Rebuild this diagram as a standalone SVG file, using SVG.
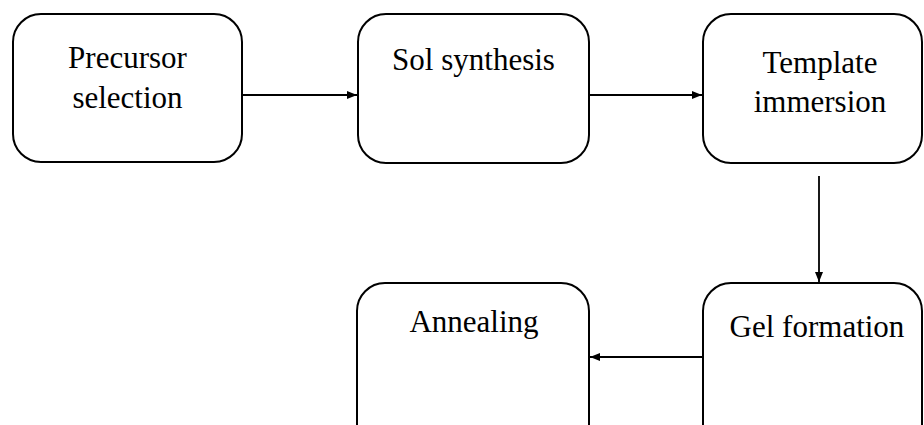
<svg xmlns="http://www.w3.org/2000/svg" width="924" height="425" viewBox="0 0 924 425">
<defs>
<marker id="arr" viewBox="0 0 10 10" refX="10" refY="5" markerWidth="10" markerHeight="10" markerUnits="userSpaceOnUse" orient="auto">
<path d="M0,1 L10,5 L0,9 Z" fill="#000"/>
</marker>
</defs>
<style>
.box{fill:#fff;stroke:#000;stroke-width:2}
.lbl{font-family:"Liberation Serif","Times New Roman",serif;font-size:31px;fill:#000;text-anchor:middle}
.edge{stroke:#000;stroke-width:1.8;fill:none;marker-end:url(#arr)}
</style>
<rect width="924" height="425" fill="#fff"/>
<g id="n1"><rect class="box" x="13" y="14" width="229" height="148" rx="28"/><text class="lbl" x="127.5" y="68">Precursor</text><text class="lbl" x="127.5" y="108">selection</text></g>
<g id="n2"><rect class="box" x="358" y="14" width="231" height="149" rx="28"/><text class="lbl" x="473.5" y="70">Sol synthesis</text></g>
<g id="n3"><rect class="box" x="703" y="14" width="219" height="149" rx="28"/><text class="lbl" x="820" y="73">Template</text><text class="lbl" x="820" y="112">immersion</text></g>
<g id="n4"><rect class="box" x="703" y="283" width="219" height="170" rx="28"/><text class="lbl" x="817" y="337">Gel formation</text></g>
<g id="n5"><rect class="box" x="357" y="283" width="232" height="170" rx="28"/><text class="lbl" x="474" y="332">Annealing</text></g>
<g id="edges">
<line class="edge" x1="242" y1="95" x2="357" y2="95"/>
<line class="edge" x1="589" y1="95" x2="702" y2="95"/>
<line class="edge" x1="819" y1="176" x2="819" y2="282"/>
<line class="edge" x1="703" y1="357" x2="590" y2="357"/>
</g>
</svg>
